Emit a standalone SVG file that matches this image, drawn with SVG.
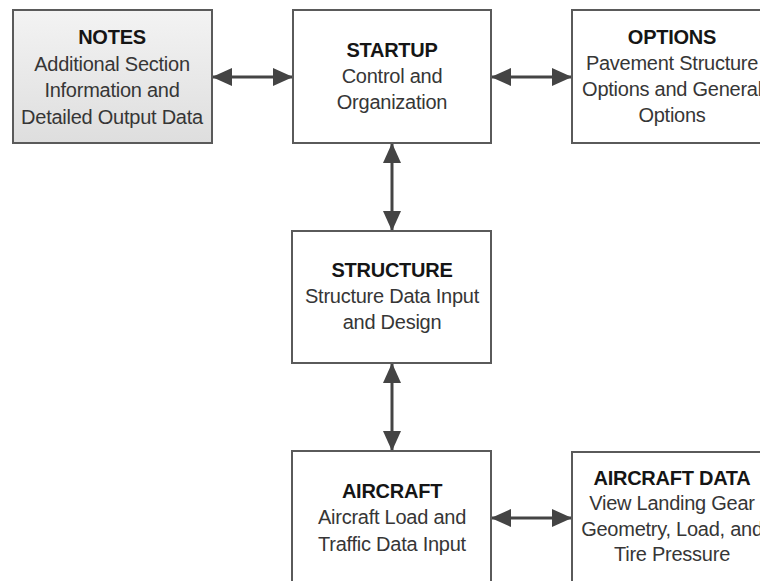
<svg xmlns="http://www.w3.org/2000/svg" width="760" height="581" viewBox="0 0 760 581">
  <defs>
    <linearGradient id="notesFill" x1="0" y1="0" x2="0" y2="1">
      <stop offset="0" stop-color="#f3f3f3"/>
      <stop offset="1" stop-color="#dedede"/>
    </linearGradient>
    <marker id="head" viewBox="0 0 20 18" refX="19" refY="9" markerWidth="20" markerHeight="18" markerUnits="userSpaceOnUse" orient="auto-start-reverse">
      <path d="M0,0 L20,9 L0,18 Z" fill="#444"/>
    </marker>
  </defs>
  <style>
    .box { fill: #fff; stroke: #5a5a5a; stroke-width: 2; }
    .notes { fill: url(#notesFill); }
    .t { font-family: "Liberation Sans", Arial, sans-serif; font-size: 20px; letter-spacing: -0.25px; text-anchor: middle; }
    .title { font-weight: bold; fill: #151515; }
    .body { fill: #363636; }
    .link { stroke: #444; stroke-width: 3; fill: none; marker-start: url(#head); marker-end: url(#head); }
  </style>
  <rect width="760" height="581" fill="#fff"/>

  <g id="connectors">
    <line class="link" x1="213" y1="77" x2="292" y2="77"/>
    <line class="link" x1="492" y1="77" x2="571" y2="77"/>
    <line class="link" x1="392" y1="144" x2="392" y2="230"/>
    <line class="link" x1="392" y1="364" x2="392" y2="450"/>
    <line class="link" x1="492" y1="518" x2="571" y2="518"/>
  </g>

  <g id="notes">
    <rect class="box notes" x="13" y="10" width="199" height="133"/>
    <text class="t title" x="112" y="44">NOTES</text>
    <text class="t body" x="112" y="70.5">Additional Section</text>
    <text class="t body" x="112" y="97">Information and</text>
    <text class="t body" x="112" y="123.5">Detailed Output Data</text>
  </g>

  <g id="startup">
    <rect class="box" x="293" y="10" width="198" height="133"/>
    <text class="t title" x="392" y="57">STARTUP</text>
    <text class="t body" x="392" y="83">Control and</text>
    <text class="t body" x="392" y="108.5">Organization</text>
  </g>

  <g id="options">
    <rect class="box" x="572" y="10" width="200" height="133"/>
    <text class="t title" x="672" y="44">OPTIONS</text>
    <text class="t body" x="672" y="70">Pavement Structure</text>
    <text class="t body" x="672" y="96">Options and General</text>
    <text class="t body" x="672" y="122">Options</text>
  </g>

  <g id="structure">
    <rect class="box" x="292" y="231" width="199" height="132"/>
    <text class="t title" x="392" y="277">STRUCTURE</text>
    <text class="t body" x="392" y="303">Structure Data Input</text>
    <text class="t body" x="392" y="328.5">and Design</text>
  </g>

  <g id="aircraft">
    <rect class="box" x="292" y="451" width="199" height="140"/>
    <text class="t title" x="392" y="498">AIRCRAFT</text>
    <text class="t body" x="392" y="524">Aircraft Load and</text>
    <text class="t body" x="392" y="551">Traffic Data Input</text>
  </g>

  <g id="aircraft-data">
    <rect class="box" x="572" y="452" width="200" height="140"/>
    <text class="t title" x="672" y="485">AIRCRAFT DATA</text>
    <text class="t body" x="672" y="510">View Landing Gear</text>
    <text class="t body" x="672" y="535.5">Geometry, Load, and</text>
    <text class="t body" x="672" y="561">Tire Pressure</text>
  </g>
</svg>
